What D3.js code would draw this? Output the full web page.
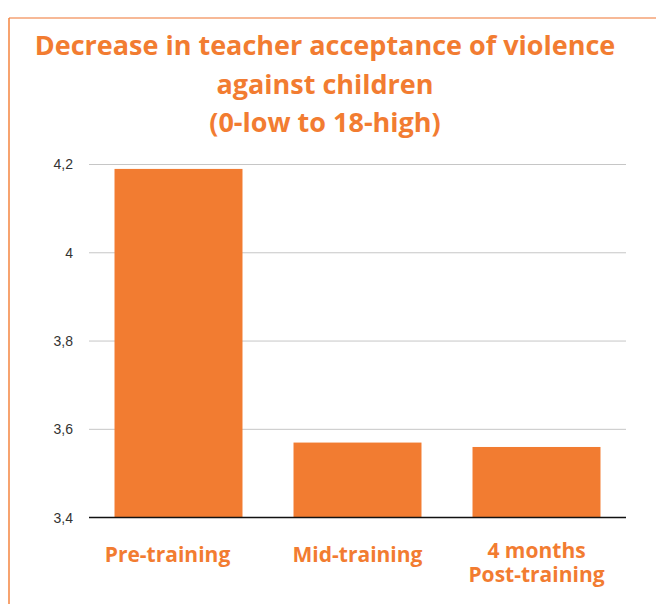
<!DOCTYPE html>
<html>
<head>
<meta charset="utf-8">
<script src="https://cdn.jsdelivr.net/npm/d3@7"></script>
<style>
  body { margin: 0; background: #fff; }
  svg { display: block; }
</style>
</head>
<body>
<div id="chart"></div>
<script>
var titleLines = ["Decrease in teacher acceptance of violence", "against children", "(0-low to 18-high)"];
var categories = [["Pre-training"], ["Mid-training"], ["4 months", "Post-training"]];
var values = [4.19, 3.57, 3.56];
var yTicks = [3.4, 3.6, 3.8, 4.0, 4.2];

var w = 656, h = 604;
var orange = "#f27c31";

var svg = d3.select("#chart").append("svg")
    .attr("width", w)
    .attr("height", h);

// frame (only top + left show in the crop)
svg.append("line").attr("x1", 9).attr("x2", w).attr("y1", 18).attr("y2", 18)
    .attr("stroke", "#f4a274").attr("stroke-width", 1.5);
svg.append("line").attr("x1", 9).attr("x2", 9).attr("y1", 18).attr("y2", h)
    .attr("stroke", "#f5843f").attr("stroke-width", 1.5);

var title = svg.append("text")
    .attr("text-anchor", "middle")
    .attr("fill", orange)
    .style("font-family", "'Open Sans', sans-serif")
    .style("font-weight", "bold")
    .style("font-size", "27px");
titleLines.forEach(function(t, i) {
    title.append("tspan").attr("x", 325).attr("y", 55 + i * 38.5).text(t);
});

var xscale = d3.scaleBand()
    .domain(d3.range(values.length))
    .range([89, 626])
    .paddingInner(0.285)
    .paddingOuter(0.1425);

var yscale = d3.scaleLinear()
    .domain([3.4, 4.2])
    .range([517.6, 164.5]);

var locale = d3.formatLocale({decimal: ",", thousands: ".", grouping: [3], currency: ["", "€"]});
var fmt = locale.format("~g");

// grid lines
svg.append("g").selectAll("line")
    .data(yTicks.slice(1))
    .enter().append("line")
    .attr("x1", 89).attr("x2", 626)
    .attr("y1", d => yscale(d)).attr("y2", d => yscale(d))
    .attr("stroke", "#c6c6c6").attr("stroke-width", 1);

var yaxis = d3.axisLeft(yscale).tickValues(yTicks).tickFormat(fmt).tickSize(0).tickPadding(16);
var yg = svg.append("g").attr("transform", "translate(89,0)").call(yaxis);
yg.select(".domain").remove();
yg.selectAll("text")
    .attr("fill", "#333")
    .style("font-family", "'Liberation Sans', Arial, sans-serif")
    .style("font-size", "14px");

svg.append("g").selectAll("rect")
    .data(values)
    .enter().append("rect")
    .attr("x", (d, i) => xscale(i))
    .attr("y", d => yscale(d))
    .attr("width", xscale.bandwidth())
    .attr("height", d => yscale(3.4) - yscale(d))
    .attr("fill", orange);

// baseline
svg.append("line").attr("x1", 89).attr("x2", 626)
    .attr("y1", yscale(3.4)).attr("y2", yscale(3.4))
    .attr("stroke", "#111").attr("stroke-width", 1.5);

var labels = svg.append("g").selectAll("text")
    .data(categories)
    .enter().append("text")
    .attr("text-anchor", "middle")
    .attr("fill", orange)
    .style("font-family", "'Open Sans', sans-serif")
    .style("font-weight", "bold")
    .style("font-size", "21px");
labels.each(function(lines, i) {
    var el = d3.select(this);
    var cx = xscale(i) + xscale.bandwidth() / 2 - (i == 0 ? 11 : 0);
    var y0 = lines.length > 1 ? 558 : 562;
    lines.forEach(function(t, j) {
        el.append("tspan").attr("x", cx).attr("y", y0 + j * 24).text(t);
    });
});
</script>
</body>
</html>
